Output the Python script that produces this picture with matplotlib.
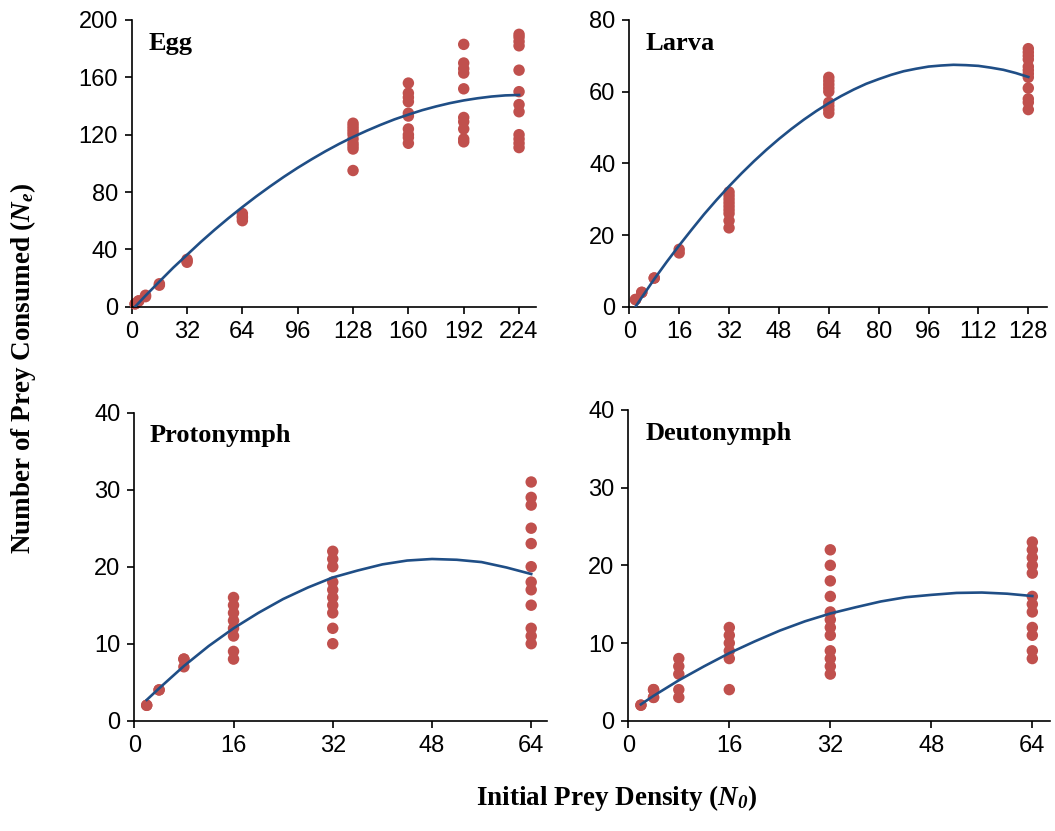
import matplotlib
matplotlib.use("Agg")
import matplotlib.pyplot as plt

# ---------------- data ----------------
egg_density = [2, 4, 8, 16, 32, 64, 128, 160, 192, 224]
egg_consumed = [
    [2, 2], [4, 4], [8, 7], [16, 15], [32, 33, 31], [65, 63, 62, 60],
    [128, 126, 124, 122, 120, 117, 114, 112, 110, 95],
    [156, 149, 146, 143, 135, 133, 124, 120, 118, 114],
    [183, 170, 166, 163, 152, 132, 129, 124, 117, 115],
    [190, 188, 185, 182, 165, 150, 141, 136, 120, 117, 114, 111],
]
egg_fit_x = [2, 8, 16, 24, 32, 40, 48, 56, 64, 72, 80, 88, 96, 104, 112, 120,
             128, 136, 144, 152, 160, 168, 176, 184, 192, 200, 208, 216, 224]
egg_fit_y = [0, 7.7, 17.5, 27.2, 36.2, 45.2, 53.7, 61.8, 69.5, 76.9, 83.9,
             90.6, 96.9, 102.8, 108.4, 113.6, 118.4, 122.8, 126.9, 130.7,
             134.0, 137.1, 139.7, 142.0, 143.9, 145.4, 146.6, 147.4, 147.7]

larva_density = [2, 4, 8, 16, 32, 64, 128]
larva_consumed = [
    [2, 2], [4, 4], [8, 8], [16, 15],
    [32, 31, 30, 29, 28, 27, 26, 24, 22],
    [64, 63, 62, 61, 60, 57, 56, 55, 54],
    [72, 71, 70, 69, 67, 66, 65, 64, 61, 58, 57, 55],
]
larva_fit_x = [2, 4, 8, 12, 16, 20, 24, 28, 32, 36, 40, 44, 48, 52, 56, 60, 64,
               68, 72, 76, 80, 84, 88, 92, 96, 100, 104, 108, 112, 116, 120,
               124, 128]
larva_fit_y = [0.0, 2.6, 7.7, 12.5, 17.1, 21.5, 25.8, 29.8, 33.6, 37.2, 40.6,
               43.8, 46.8, 49.6, 52.2, 54.6, 56.8, 58.8, 60.6, 62.2, 63.5,
               64.7, 65.7, 66.4, 67.0, 67.3, 67.5, 67.4, 67.2, 66.7, 66.1,
               65.2, 64.1]

proto_density = [2, 4, 8, 16, 32, 64]
proto_consumed = [
    [2, 2], [4, 4], [8, 8, 7],
    [16, 15, 14, 13, 12, 11, 9, 8],
    [22, 21, 20, 18, 17, 16, 15, 14, 12, 10],
    [31, 29, 28, 25, 23, 20, 18, 17, 15, 12, 11, 10],
]
proto_fit_x = [2, 4, 8, 12, 16, 20, 24, 28, 32, 36, 40, 44, 48, 52, 56, 60, 64]
proto_fit_y = [2.7, 4.2, 7.1, 9.7, 12.0, 14.0, 15.8, 17.3, 18.6, 19.5, 20.3,
               20.8, 21.0, 20.9, 20.6, 19.9, 19.05]

deuto_density = [2, 4, 8, 16, 32, 64]
deuto_consumed = [
    [2, 2], [4, 4, 3, 3], [8, 7, 6, 4, 3],
    [12, 11, 10, 9, 8, 4],
    [22, 20, 18, 16, 14, 13, 12, 11, 9, 8, 7, 6],
    [23, 22, 21, 20, 19, 16, 15, 14, 12, 11, 9, 8],
]
deuto_fit_x = [2, 4, 8, 12, 16, 20, 24, 28, 32, 36, 40, 44, 48, 52, 56, 60, 64]
deuto_fit_y = [2.1, 3.2, 5.2, 7.0, 8.7, 10.2, 11.6, 12.8, 13.8, 14.6, 15.35,
               15.9, 16.2, 16.45, 16.5, 16.35, 16.05]

titles = ["Egg", "Larva", "Protonymph", "Deutonymph"]
xticks_list = [list(range(0, 225, 32)), list(range(0, 129, 16)),
               list(range(0, 65, 16)), list(range(0, 65, 16))]
yticks_list = [list(range(0, 201, 40)), list(range(0, 81, 20)),
               list(range(0, 41, 10)), list(range(0, 41, 10))]
xlims = [(0, 233.8), (0, 133.9), (0, 66.5), (0, 66.8)]

# ---------------- style ----------------
plt.rcParams['mathtext.fontset'] = 'custom'
plt.rcParams['mathtext.rm'] = 'Liberation Serif:bold'
plt.rcParams['mathtext.it'] = 'Liberation Serif:italic:bold'
plt.rcParams['mathtext.bf'] = 'Liberation Serif:bold'
sub0 = r"\mathit{0}"
try:
    plt.rcParams['mathtext.bfit'] = 'Liberation Serif:italic:bold'
    sub0 = r"\mathbfit{0}"
except KeyError:
    pass

W, H = 1055, 831
fig = plt.figure(figsize=(W / 100, H / 100), dpi=100)

# axes boxes in pixels: left, right, top, bottom
boxes = [(131.7, 536.0, 20.0, 306.7),
         (629.3, 1046.7, 20.0, 306.7),
         (134.3, 546.7, 412.7, 720.7),
         (628.3, 1050.0, 410.0, 720.7)]
title_pos = [(0.041, 0.897), (0.040, 0.895), (0.038, 0.906), (0.040, 0.903)]

datasets = [(egg_density, egg_consumed, egg_fit_x, egg_fit_y),
            (larva_density, larva_consumed, larva_fit_x, larva_fit_y),
            (proto_density, proto_consumed, proto_fit_x, proto_fit_y),
            (deuto_density, deuto_consumed, deuto_fit_x, deuto_fit_y)]

dot_color = "#C0504D"
line_color = "#1F4E86"

for i, (l, r, t, b) in enumerate(boxes):
    ax = fig.add_axes([l / W, (H - b) / H, (r - l) / W, (b - t) / H])
    dens, cons, fx, fy = datasets[i]
    xs, ys = [], []
    for d, vals in zip(dens, cons):
        for v in vals:
            xs.append(d)
            ys.append(v)
    ax.scatter(xs, ys, s=68, color=dot_color, edgecolors='none', zorder=2,
               clip_on=False)
    ax.plot(fx, fy, color=line_color, lw=1.9, zorder=3, solid_joinstyle='round')
    ax.set_xlim(*xlims[i])
    ax.set_ylim(yticks_list[i][0], yticks_list[i][-1])
    ax.set_xticks(xticks_list[i])
    ax.set_yticks(yticks_list[i])
    for s in ['top', 'right']:
        ax.spines[s].set_visible(False)
    for s in ['left', 'bottom']:
        ax.spines[s].set_linewidth(1.2)
        ax.spines[s].set_color('black')
    ax.tick_params(axis='both', direction='out', length=5, width=1.2,
                   labelsize=17, pad=5, colors='black')
    for lab in ax.get_xticklabels() + ax.get_yticklabels():
        lab.set_fontfamily('Liberation Sans')
    ax.text(title_pos[i][0], title_pos[i][1], titles[i], transform=ax.transAxes,
            fontfamily='Liberation Serif', fontweight='bold', fontsize=19,
            ha='left', va='baseline')

fig.text(23 / W, 1 - 368 / H, r"Number of Prey Consumed ($N_e$)",
         rotation=90, ha='center', va='center', fontfamily='Liberation Serif',
         fontweight='bold', fontsize=19.5)
fig.text(617 / W, 1 - 798 / H, r"Initial Prey Density ($N_{" + sub0 + r"}$)",
         ha='center', va='center', fontfamily='Liberation Serif',
         fontweight='bold', fontsize=19.5)

fig.savefig("out.png", dpi=100)
